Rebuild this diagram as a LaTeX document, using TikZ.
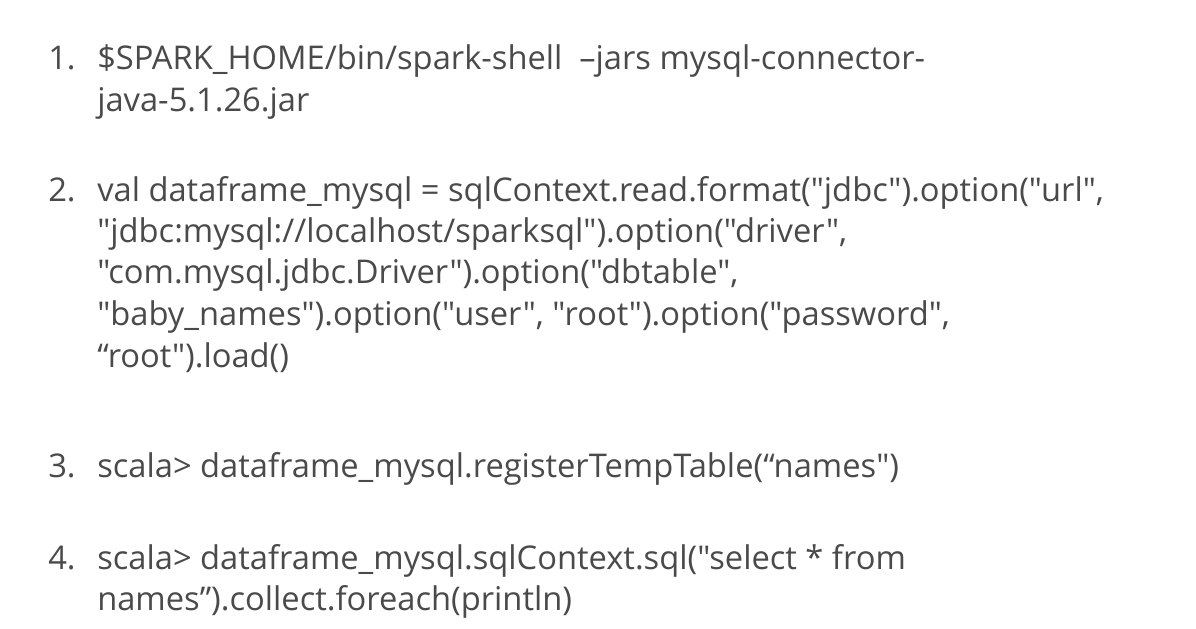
\documentclass[tikz,border=0pt]{standalone}
\usepackage{fontspec}
\setmainfont{Open Sans}[Ligatures=TeXOff]
\definecolor{codegray}{HTML}{4A4A4A}
\begin{document}
\begin{tikzpicture}[x=0.02646cm, y=-0.02646cm,
    line/.style={anchor=base west, inner sep=0pt, text=codegray, font=\fontsize{24.6}{28}\selectfont},
    num/.style={line}]
    \useasboundingbox[fill=white] (0,0) rectangle (1196,628);
    % Step 1
    \node[num] (n1) at (48, 69) {1.};
    \node[line] (l1a) at (97, 69) {\$SPARK\_HOME/bin/spark-shell~~–jars mysql-connector-};
    \node[line] (l1b) at (97, 111) {java-5.1.26.jar};
    % Step 2
    \node[num] (n2) at (48, 201) {2.};
    \node[line] (l2a) at (97, 201) {val dataframe\_mysql = sqlContext.read.format("jdbc").option("url",};
    \node[line] (l2b) at (97, 242) {"jdbc:mysql://localhost/sparksql").option("driver",};
    \node[line] (l2c) at (97, 283) {"com.mysql.jdbc.Driver").option("dbtable",};
    \node[line] (l2d) at (97, 325) {"baby\_names").option("user", "root").option("password",};
    \node[line] (l2e) at (97, 367) {“root").load()};
    % Step 3
    \node[num] (n3) at (48, 477) {3.};
    \node[line] (l3a) at (97, 477) {scala> dataframe\_mysql.registerTempTable(“names")};
    % Step 4
    \node[num] (n4) at (48, 569) {4.};
    \node[line] (l4a) at (97, 569) {scala> dataframe\_mysql.sqlContext.sql("select * from};
    \node[line] (l4b) at (97, 610) {names”).collect.foreach(println)};
\end{tikzpicture}
\end{document}
